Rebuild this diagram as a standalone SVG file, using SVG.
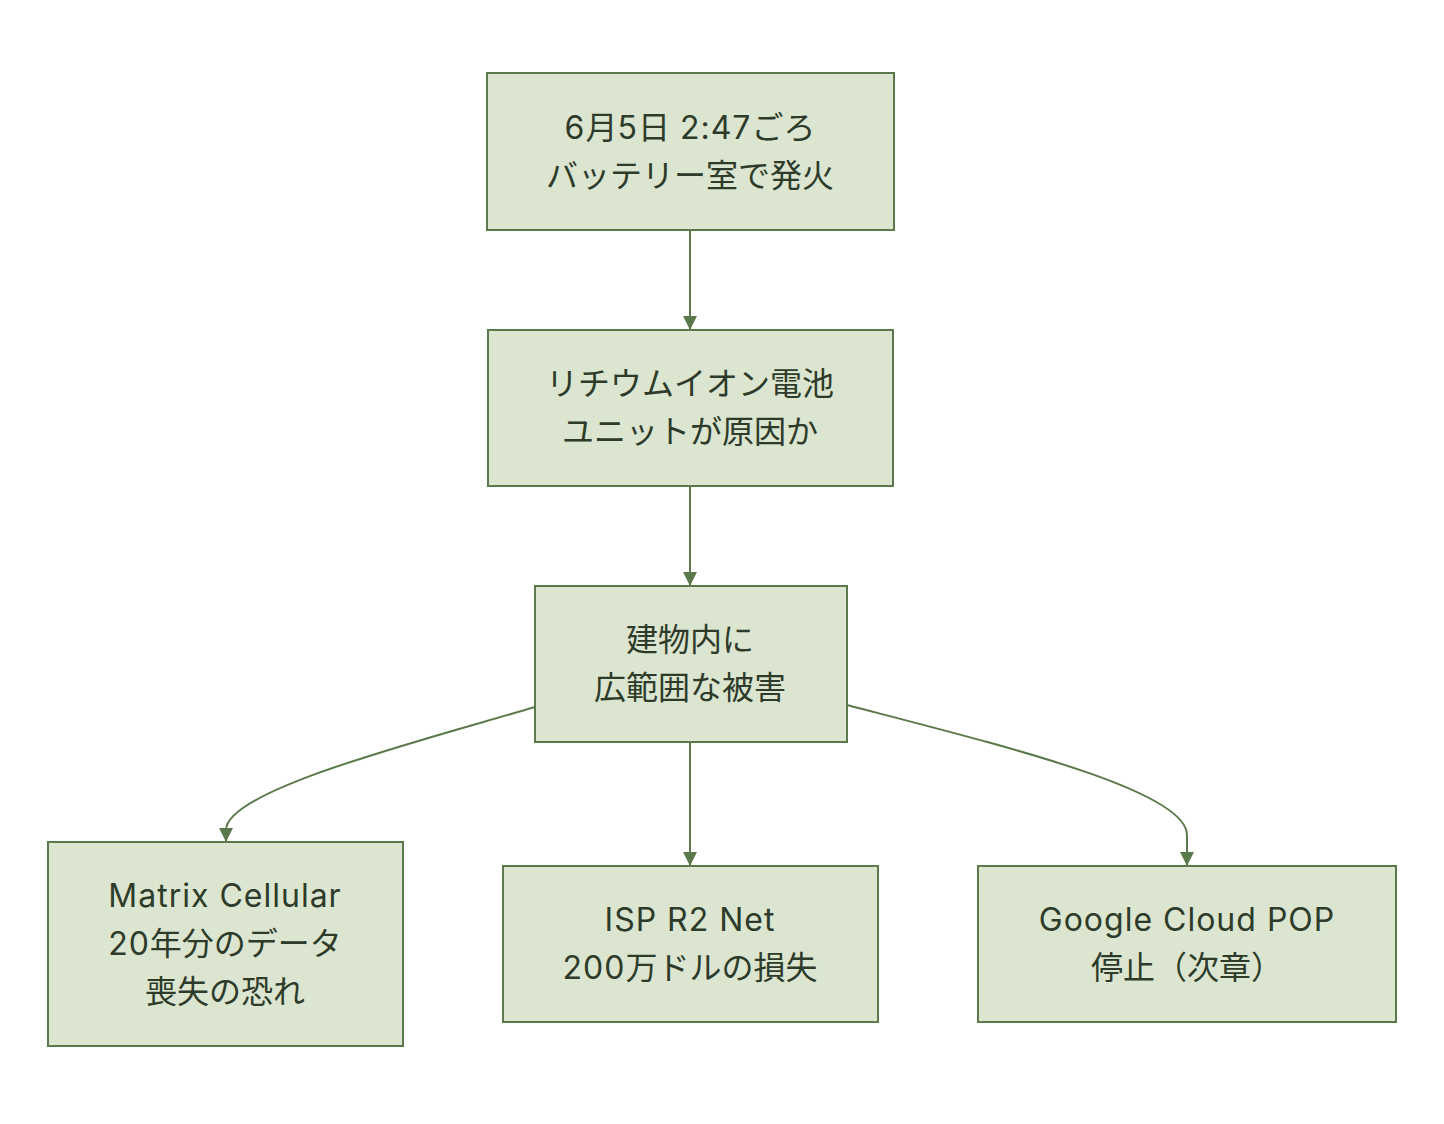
<svg xmlns="http://www.w3.org/2000/svg" width="1444" height="1124" viewBox="0 0 1444 1124">
<style>
.node rect{fill:#dce5cf;stroke:#5a7a4b;stroke-width:2}
.node text{font-family:Inter,"Noto Sans CJK JP","Liberation Sans",sans-serif;font-size:32px;fill:#2e3b2a;text-anchor:middle}
.l{letter-spacing:1px}
.edge{fill:none;stroke:#5a7a4b;stroke-width:2}
</style>
<defs>
<marker id="arr" markerUnits="userSpaceOnUse" markerWidth="16" markerHeight="16" refX="14" refY="7" orient="auto">
<path d="M0,0 L14,7 L0,14 Z" fill="#5a7a4b"/>
</marker>
</defs>
<rect width="1444" height="1124" fill="#ffffff"/>
<g id="connectors">
<path class="edge" d="M690,230 L690,330" marker-end="url(#arr)"/>
<path class="edge" d="M690,486 L690,586" marker-end="url(#arr)"/>
<path class="edge" d="M690,742 L690,866" marker-end="url(#arr)"/>
<path class="edge" d="M535,707 C420,741 226,790 226,830 L226,842" marker-end="url(#arr)"/>
<path class="edge" d="M847,705 C1000,745 1187,790 1187,835 L1187,866" marker-end="url(#arr)"/>
</g>
<g id="n1" class="node">
<rect x="487" y="73" width="407" height="157"/>
<text x="690" y="139"><tspan class="l">6</tspan>月<tspan class="l">5</tspan>日<tspan class="l"> 2:47</tspan>ごろ</text>
<text x="690" y="187">バッテリー室で発火</text>
</g>
<g id="n2" class="node">
<rect x="488" y="330" width="405" height="156"/>
<text x="690" y="395">リチウムイオン電池</text>
<text x="690" y="443">ユニットが原因か</text>
</g>
<g id="n3" class="node">
<rect x="535" y="586" width="312" height="156"/>
<text x="690" y="651">建物内に</text>
<text x="690" y="699">広範囲な被害</text>
</g>
<g id="n4" class="node">
<rect x="48" y="842" width="355" height="204"/>
<text x="225" y="907" class="l">Matrix Cellular</text>
<text x="225" y="955"><tspan class="l">20</tspan>年分のデータ</text>
<text x="225" y="1003">喪失の恐れ</text>
</g>
<g id="n5" class="node">
<rect x="503" y="866" width="375" height="156"/>
<text x="690" y="931" class="l">ISP R2 Net</text>
<text x="690" y="979"><tspan class="l">200</tspan>万ドルの損失</text>
</g>
<g id="n6" class="node">
<rect x="978" y="866" width="418" height="156"/>
<text x="1187" y="931" class="l">Google Cloud POP</text>
<text x="1187" y="979">停止（次章）</text>
</g>
</svg>
